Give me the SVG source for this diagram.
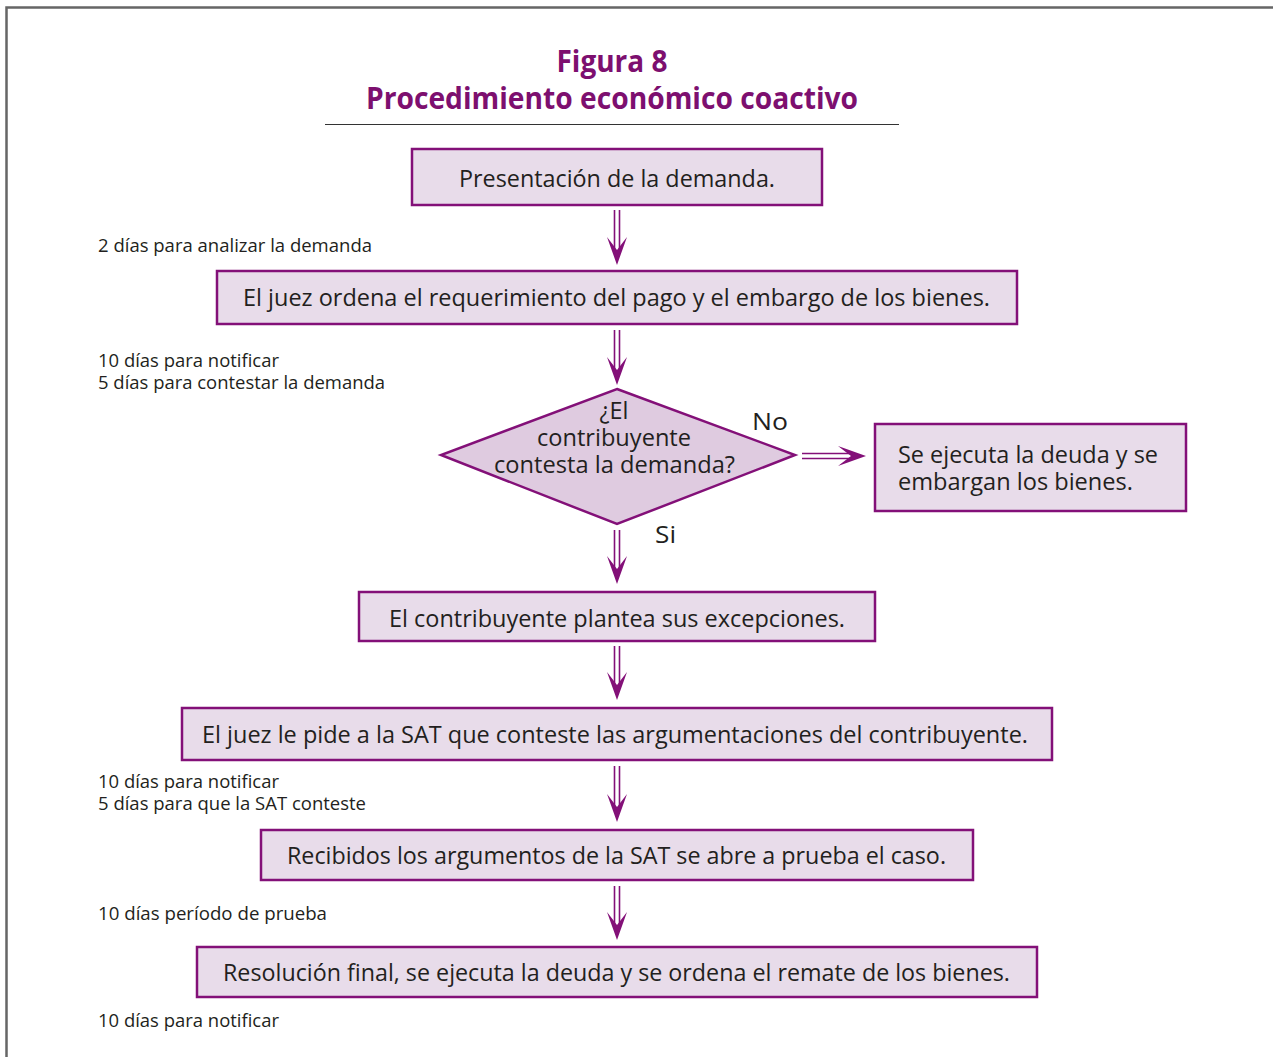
<svg xmlns="http://www.w3.org/2000/svg" width="1273" height="1057" viewBox="0 0 1273 1057">
  <style>
    .frame { fill: none; stroke: #666666; stroke-width: 2.5; }
    .rule { stroke: #333333; stroke-width: 1.2; }
    .title { font-family: "Open Sans", "Liberation Sans", sans-serif; font-weight: 700; font-size: 31px; fill: #7d0f6f; text-anchor: middle; }
    .box { fill: #e8dcea; stroke: #831078; stroke-width: 2.5; }
    .dia { fill: #dfcbe0; stroke: #831078; stroke-width: 2.5; }
    .lbl { font-family: "Open Sans", "Liberation Sans", sans-serif; font-size: 23px; fill: #231f20; }
    .mid { text-anchor: middle; }
    .note { font-family: "Open Sans", "Liberation Sans", sans-serif; font-size: 18px; fill: #231f20; }
    .shaft { stroke: #831078; stroke-width: 1.6; fill: none; }
    .head { fill: #831078; }
  </style>
  <defs>
    <!-- barbed head, tip at origin, pointing down -->
    <path id="ah" d="M0,0 L-10,-28 L0,-15 L10,-28 Z"/>
    <g id="varrow">
      <line class="shaft" x1="-2.5" y1="0" x2="-2.5" y2="40"/>
      <line class="shaft" x1="2.5" y1="0" x2="2.5" y2="40"/>
    </g>
  </defs>

  <!-- page frame -->
  <path class="frame" d="M6.5,1057 L6.5,7.5 L1273,7.5"/>

  <!-- heading -->
  <text class="title" x="612" y="72" textLength="111" lengthAdjust="spacingAndGlyphs">Figura 8</text>
  <text class="title" x="612" y="109" textLength="492" lengthAdjust="spacingAndGlyphs">Procedimiento económico coactivo</text>
  <line class="rule" x1="325" y1="124.5" x2="899" y2="124.5"/>

  <!-- connectors -->
  <g id="connectors">
    <g transform="translate(617,210)">
      <line class="shaft" x1="-2.5" y1="0" x2="-2.5" y2="42"/>
      <line class="shaft" x1="2.5" y1="0" x2="2.5" y2="42"/>
      <use href="#ah" class="head" transform="translate(0,55)"/>
    </g>
    <g transform="translate(617,330)">
      <line class="shaft" x1="-2.5" y1="0" x2="-2.5" y2="42"/>
      <line class="shaft" x1="2.5" y1="0" x2="2.5" y2="42"/>
      <use href="#ah" class="head" transform="translate(0,55)"/>
    </g>
    <g transform="translate(617,530)">
      <line class="shaft" x1="-2.5" y1="0" x2="-2.5" y2="42"/>
      <line class="shaft" x1="2.5" y1="0" x2="2.5" y2="42"/>
      <use href="#ah" class="head" transform="translate(0,54)"/>
    </g>
    <g transform="translate(617,646)">
      <line class="shaft" x1="-2.5" y1="0" x2="-2.5" y2="42"/>
      <line class="shaft" x1="2.5" y1="0" x2="2.5" y2="42"/>
      <use href="#ah" class="head" transform="translate(0,54)"/>
    </g>
    <g transform="translate(617,766)">
      <line class="shaft" x1="-2.5" y1="0" x2="-2.5" y2="44"/>
      <line class="shaft" x1="2.5" y1="0" x2="2.5" y2="44"/>
      <use href="#ah" class="head" transform="translate(0,56)"/>
    </g>
    <g transform="translate(617,886)">
      <line class="shaft" x1="-2.5" y1="0" x2="-2.5" y2="42"/>
      <line class="shaft" x1="2.5" y1="0" x2="2.5" y2="42"/>
      <use href="#ah" class="head" transform="translate(0,54)"/>
    </g>
    <!-- "No" branch -->
    <g transform="translate(802,456)">
      <line class="shaft" x1="0" y1="-2.5" x2="50" y2="-2.5"/>
      <line class="shaft" x1="0" y1="2.5" x2="50" y2="2.5"/>
      <use href="#ah" class="head" transform="translate(64,0) rotate(-90)"/>
    </g>
  </g>

  <!-- nodes -->
  <g id="n-demanda">
    <rect class="box" x="412" y="149" width="410" height="56"/>
    <text class="lbl mid" x="617" y="187" textLength="316" lengthAdjust="spacingAndGlyphs">Presentación de la demanda.</text>
  </g>
  <g id="n-requerimiento">
    <rect class="box" x="217" y="271" width="800" height="53"/>
    <text class="lbl mid" x="616.5" y="306" textLength="747" lengthAdjust="spacingAndGlyphs">El juez ordena el requerimiento del pago y el embargo de los bienes.</text>
  </g>
  <g id="n-decision">
    <polygon class="dia" points="617,389 795,455 617,524 441,455"/>
    <text class="lbl mid" x="614" y="419" textLength="29" lengthAdjust="spacingAndGlyphs">¿El</text>
    <text class="lbl mid" x="614" y="446" textLength="154" lengthAdjust="spacingAndGlyphs">contribuyente</text>
    <text class="lbl mid" x="614.5" y="473" textLength="241" lengthAdjust="spacingAndGlyphs">contesta la demanda?</text>
    <text class="lbl" x="752" y="430" textLength="36" lengthAdjust="spacingAndGlyphs">No</text>
    <text class="lbl" x="655" y="543" textLength="21" lengthAdjust="spacingAndGlyphs">Si</text>
  </g>
  <g id="n-embargo">
    <rect class="box" x="875" y="424" width="311" height="87"/>
    <text class="lbl" x="898" y="463" textLength="260" lengthAdjust="spacingAndGlyphs">Se ejecuta la deuda y se</text>
    <text class="lbl" x="898" y="490" textLength="235" lengthAdjust="spacingAndGlyphs">embargan los bienes.</text>
  </g>
  <g id="n-excepciones">
    <rect class="box" x="359" y="592" width="516" height="49"/>
    <text class="lbl mid" x="617" y="627" textLength="456" lengthAdjust="spacingAndGlyphs">El contribuyente plantea sus excepciones.</text>
  </g>
  <g id="n-argumentaciones">
    <rect class="box" x="182" y="708" width="870" height="52"/>
    <text class="lbl mid" x="615" y="743" textLength="826" lengthAdjust="spacingAndGlyphs">El juez le pide a la SAT que conteste las argumentaciones del contribuyente.</text>
  </g>
  <g id="n-prueba">
    <rect class="box" x="261" y="830" width="712" height="50"/>
    <text class="lbl mid" x="616.5" y="864" textLength="659" lengthAdjust="spacingAndGlyphs">Recibidos los argumentos de la SAT se abre a prueba el caso.</text>
  </g>
  <g id="n-resolucion">
    <rect class="box" x="197" y="947" width="840" height="50"/>
    <text class="lbl mid" x="616.5" y="981" textLength="787" lengthAdjust="spacingAndGlyphs">Resolución final, se ejecuta la deuda y se ordena el remate de los bienes.</text>
  </g>

  <!-- time notes -->
  <g id="notes">
    <text class="note" x="98" y="252" textLength="274" lengthAdjust="spacingAndGlyphs">2 días para analizar la demanda</text>
    <text class="note" x="98" y="367" textLength="181" lengthAdjust="spacingAndGlyphs">10 días para notificar</text>
    <text class="note" x="98" y="389" textLength="287" lengthAdjust="spacingAndGlyphs">5 días para contestar la demanda</text>
    <text class="note" x="98" y="788" textLength="181" lengthAdjust="spacingAndGlyphs">10 días para notificar</text>
    <text class="note" x="98" y="810" textLength="268" lengthAdjust="spacingAndGlyphs">5 días para que la SAT conteste</text>
    <text class="note" x="98" y="920" textLength="229" lengthAdjust="spacingAndGlyphs">10 días período de prueba</text>
    <text class="note" x="98" y="1027" textLength="181" lengthAdjust="spacingAndGlyphs">10 días para notificar</text>
  </g>
</svg>
